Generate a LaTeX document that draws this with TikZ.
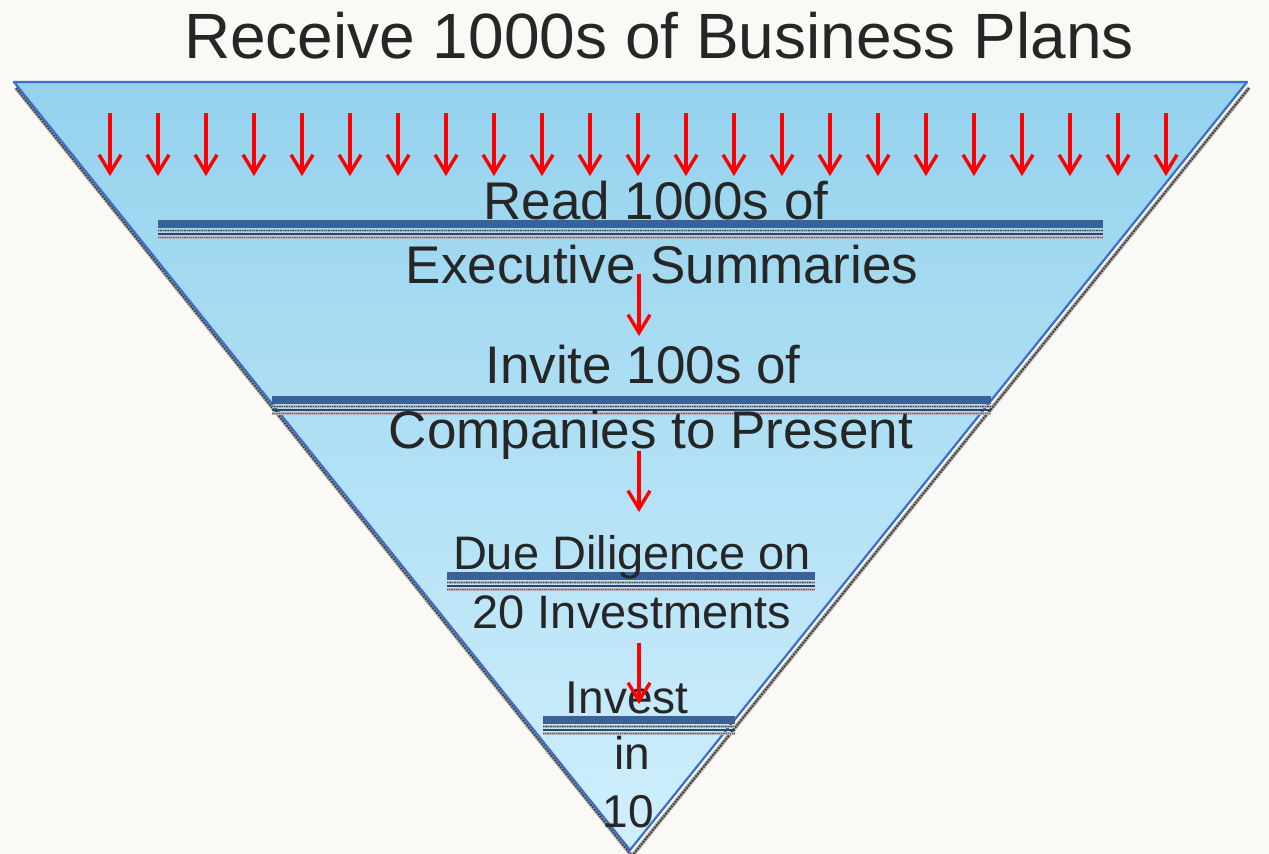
\documentclass[tikz,border=0pt]{standalone}
\usepackage{fontspec}
\setmainfont{Liberation Sans}
\usetikzlibrary{arrows.meta}

\definecolor{paper}{RGB}{250,249,246}
\definecolor{funneltop}{RGB}{148,210,237}
\definecolor{funnelbot}{RGB}{208,239,253}
\definecolor{funnelline}{RGB}{58,110,205}
\definecolor{barblue}{RGB}{58,98,153}
\definecolor{textgray}{RGB}{38,38,38}

\tikzset{
  flow/.style={draw=red, line width=3.4pt, -{Straight Barb[length=18pt,width=22pt]}},
  title/.style={font=\fontsize{64}{70}\selectfont, text=textgray, anchor=base, inner sep=0pt},
  stage/.style={font=\fontsize{53}{60}\selectfont, text=textgray, anchor=base, inner sep=0pt},
  stagesmall/.style={stage, font=\fontsize{47}{52}\selectfont},
  stagetiny/.style={stage, font=\fontsize{46}{52}\selectfont},
}

% bar under a stage: left x, right x, top y
\newcommand{\funnelbar}[3]{%
  \fill[barblue] (#1,#3) rectangle (#2,#3+8);
  \draw[gray!60, line width=3pt] (#1,#3+10.5) -- (#2,#3+10.5);
  \draw[black!75, densely dotted, line width=1.4pt] (#1,#3+10.5) -- (#2,#3+10.5);
  \draw[barblue!70!black, line width=1.2pt] (#1,#3+14) -- (#2,#3+14);
  \draw[gray!60, line width=2.5pt] (#1,#3+17.5) -- (#2,#3+17.5);
  \draw[black!65, densely dotted, line width=1.2pt] (#1,#3+17.5) -- (#2,#3+17.5);
}

\begin{document}
\begin{tikzpicture}[x=1pt, y=-1pt]

  % page
  \useasboundingbox (0,0) rectangle (1269,854);
  \fill[paper] (0,0) rectangle (1269,854);

  % funnel corners
  \coordinate (tl)   at (14,82);
  \coordinate (tr)   at (1247,82);
  \coordinate (apex) at (630,850);

  % funnel shadow
  \draw[gray!60, line width=4pt] ([shift={(2,6)}]tl) -- ([shift={(2,6)}]apex) -- ([shift={(2,6)}]tr) ; %
  \draw[black!75, densely dotted, line width=2pt] ([shift={(2,6)}]tl) -- ([shift={(2,6)}]apex) -- ([shift={(2,6)}]tr) ; %

  % funnel
  \shade[top color=funneltop, bottom color=funnelbot] (tl) -- (tr) -- (apex) -- cycle ; %
  \draw[funnelline, line width=2.2pt, line join=round] (tl) -- (tr) -- (apex) -- cycle ; %

  % bars
  \funnelbar{158}{1103}{220}
  \funnelbar{272}{991}{396}
  \funnelbar{447}{815}{572}
  \funnelbar{543}{735}{716}

  % title
  \node[title] (plans) at (659,58) {Receive 1000s of Business Plans} ; %

  % stages
  \node[stage] (read)      at (656,219) {Read 1000s of} ; %
  \node[stage] (summaries) at (662,283) {Executive Summaries} ; %
  \node[stage] (invite)    at (643,383) {Invite 100s of} ; %
  \node[stage] (present)   at (651,448) {Companies to Present} ; %
  \node[stagesmall] (diligence)   at (632,569) {Due Diligence on} ; %
  \node[stagesmall] (investments) at (632,628) {20 Investments} ; %
  \node[stagetiny] (invest) at (627,713) {Invest} ; %
  \node[stagetiny] (in)     at (632,769) {in} ; %
  \node[stagetiny] (ten)    at (628,827) {10} ; %

  % incoming plans
  \foreach \i in {0,...,22} {
    \coordinate (drop\i-a) at (110+48*\i,113) ; %
    \coordinate (drop\i-b) at (110+48*\i,176) ; %
    \draw[flow] (drop\i-a) -- (drop\i-b) ; %
  }

  % flow between stages
  \coordinate (f1-a) at (639,274) ; %
  \coordinate (f1-b) at (639,336) ; %
  \coordinate (f2-a) at (639,451) ; %
  \coordinate (f2-b) at (639,512) ; %
  \coordinate (f3-a) at (639,643) ; %
  \coordinate (f3-b) at (639,704) ; %
  \draw[flow] (f1-a) -- (f1-b) ; %
  \draw[flow] (f2-a) -- (f2-b) ; %
  \draw[flow] (f3-a) -- (f3-b) ; %

\end{tikzpicture}
\end{document}
